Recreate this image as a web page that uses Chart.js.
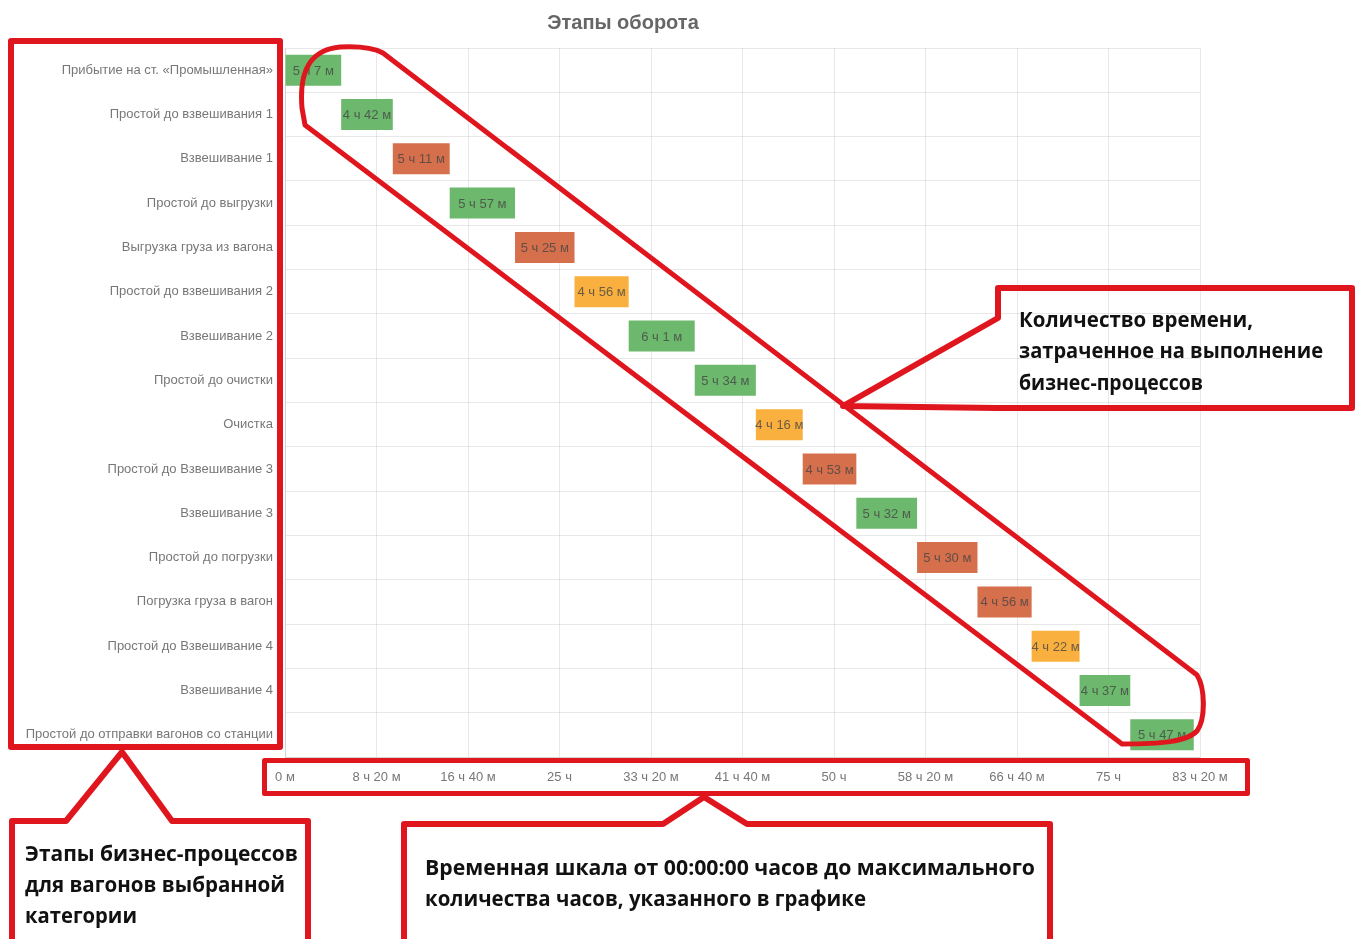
<!DOCTYPE html>
<html lang="ru">
<head>
<meta charset="utf-8">
<title>Этапы оборота</title>
<script src="https://cdn.jsdelivr.net/npm/chart.js@4.4.1/dist/chart.umd.min.js"></script>
<style>
  html, body { margin: 0; padding: 0; background: #ffffff; width: 1363px; height: 939px; overflow: hidden; }
  #wrap { position: absolute; left: 0; top: 0; width: 1246px; height: 800px; }
  #overlay { position: absolute; left: 0; top: 0; width: 1363px; height: 939px; pointer-events: none; }
  #overlay text { font-family: "Open Sans", "Noto Sans", sans-serif; font-weight: 700; font-size: 22px; fill: #111; }
</style>
</head>
<body>
<div id="wrap"><canvas id="chart" width="1246" height="800"></canvas></div>

<svg id="overlay" width="1363" height="939" xmlns="http://www.w3.org/2000/svg">
  <g fill="none" stroke="#e0161e" stroke-linejoin="round" stroke-linecap="round">
    <!-- box around stage labels -->
    <rect x="11" y="41" width="269" height="706" stroke-width="6"/>
    <!-- box around time axis -->
    <rect x="264.5" y="760.5" width="983" height="33" stroke-width="5"/>
    <!-- left callout -->
    <path d="M 12 945 L 12 821 L 66 821 L 122 752 L 172 821 L 308 821 L 308 945" stroke-width="6"/>
    <!-- bottom callout -->
    <path d="M 404 945 L 404 824 L 663 824 L 704 797 L 747 824 L 1050 824 L 1050 945" stroke-width="6"/>
    <!-- right callout -->
    <path d="M 998 318 L 998 288 L 1352 288 L 1352 408 L 996 408 L 843 406 Z" stroke-width="6"/>
    <!-- lasso around bars -->
    <path d="M 383 53 L 1197 675 C 1205 688 1206 718 1197 731 C 1187 742 1160 744 1122 744 L 305 125 L 302 108 C 299 72 309 50 340 47 C 360 46 374 48 383 53 Z" stroke-width="5"/>
  </g>
  <text x="1019" y="327" textLength="234" lengthAdjust="spacingAndGlyphs">Количество времени,</text>
  <text x="1019" y="358" textLength="304" lengthAdjust="spacingAndGlyphs">затраченное на выполнение</text>
  <text x="1019" y="390" textLength="184" lengthAdjust="spacingAndGlyphs">бизнес-процессов</text>

  <text x="25" y="861" textLength="273" lengthAdjust="spacingAndGlyphs">Этапы бизнес-процессов</text>
  <text x="25" y="892" textLength="260" lengthAdjust="spacingAndGlyphs">для вагонов выбранной</text>
  <text x="25" y="923" textLength="112" lengthAdjust="spacingAndGlyphs">категории</text>

  <text x="425" y="875" textLength="610" lengthAdjust="spacingAndGlyphs">Временная шкала от 00:00:00 часов до максимального</text>
  <text x="425" y="906" textLength="441" lengthAdjust="spacingAndGlyphs">количества часов, указанного в графике</text>
</svg>

<script>
// ---- data (minutes) ----
const stages = [
  'Прибытие на ст. «Промышленная»',
  'Простой до взвешивания 1',
  'Взвешивание 1',
  'Простой до выгрузки',
  'Выгрузка груза из вагона',
  'Простой до взвешивания 2',
  'Взвешивание 2',
  'Простой до очистки',
  'Очистка',
  'Простой до Взвешивание 3',
  'Взвешивание 3',
  'Простой до погрузки',
  'Погрузка груза в вагон',
  'Простой до Взвешивание 4',
  'Взвешивание 4',
  'Простой до отправки вагонов со станции'
];
const startMinutes = [0, 307, 589, 900, 1257, 1582, 1878, 2239, 2573, 2829, 3122, 3454, 3784, 4080, 4342, 4619];
const durationMinutes = [307, 282, 311, 357, 325, 296, 361, 334, 256, 293, 332, 330, 296, 262, 277, 347];
const stageStatus = ['ok', 'ok', 'late', 'ok', 'late', 'warn', 'ok', 'ok', 'warn', 'late', 'ok', 'late', 'late', 'warn', 'ok', 'ok'];
const axisMaxMinutes = 5000;
const axisStepMinutes = 500;
const tickLabels = ['0 м', '8 ч 20 м', '16 ч 40 м', '25 ч', '33 ч 20 м', '41 ч 40 м', '50 ч', '58 ч 20 м', '66 ч 40 м', '75 ч', '83 ч 20 м'];

// ---- styling ----
const statusColors = { ok: '#6cb86c', late: '#d56f4c', warn: '#f9b03e' };
const FONT = '"Liberation Sans", Arial, Helvetica, sans-serif';

function fmtDuration(min) {
  const h = Math.floor(min / 60), m = min % 60;
  if (h === 0) return m + ' м';
  if (m === 0) return h + ' ч';
  return h + ' ч ' + m + ' м';
}

const barLabelPlugin = {
  id: 'barLabels',
  afterLayout(chart) {
    // let long category labels extend into the left padding instead of being clipped
    const y = chart.scales.y;
    if (y) { y.left = 0; }
  },
  afterDatasetsDraw(chart) {
    const ctx = chart.ctx;
    const meta = chart.getDatasetMeta(0);
    ctx.save();
    ctx.font = '13px ' + FONT;
    ctx.fillStyle = 'rgba(70,70,70,0.8)';
    ctx.textAlign = 'center';
    ctx.textBaseline = 'middle';
    meta.data.forEach((bar, i) => {
      const cx = (bar.x + bar.base) / 2;
      ctx.fillText(fmtDuration(durationMinutes[i]), cx, bar.y + 1);
    });
    ctx.restore();
  }
};

new Chart(document.getElementById('chart'), {
  type: 'bar',
  data: {
    labels: stages,
    datasets: [{
      data: stages.map((_, i) => [startMinutes[i], startMinutes[i] + durationMinutes[i]]),
      backgroundColor: stageStatus.map(s => statusColors[s]),
      borderWidth: 0,
      barPercentage: 0.7,
      categoryPercentage: 1.0
    }]
  },
  options: {
    indexAxis: 'y',
    responsive: false,
    animation: false,
    devicePixelRatio: 1,
    layout: { padding: { left: 46, right: 46, top: 0, bottom: 3 } },
    plugins: {
      legend: { display: false },
      tooltip: { enabled: false },
      title: {
        display: true,
        text: 'Этапы оборота',
        color: '#666',
        font: { family: FONT, size: 20, weight: 'bold' },
        padding: { top: 11, bottom: 13 }
      }
    },
    scales: {
      x: {
        type: 'linear',
        min: 0,
        max: axisMaxMinutes,
        afterFit(scale) { scale.height = 40; },
        afterBuildTicks(scale) {
          scale.ticks = tickLabels.map((_, i) => ({ value: i * axisStepMinutes }));
        },
        ticks: {
          color: '#777',
          font: { family: FONT, size: 13 },
          padding: 13,
          maxRotation: 0,
          autoSkip: false,
          callback: (v, i) => tickLabels[i]
        },
        grid: { color: 'rgba(0,0,0,0.09)', drawTicks: false },
        border: { color: 'rgba(0,0,0,0.09)' }
      },
      y: {
        afterFit(scale) { scale.width = 239; },
        ticks: {
          color: '#777',
          font: { family: FONT, size: 13 },
          padding: 12,
          autoSkip: false
        },
        grid: { color: 'rgba(0,0,0,0.09)', drawTicks: false, offset: true },
        border: { color: 'rgba(0,0,0,0.09)' }
      }
    }
  },
  plugins: [barLabelPlugin]
});
</script>
</body>
</html>
